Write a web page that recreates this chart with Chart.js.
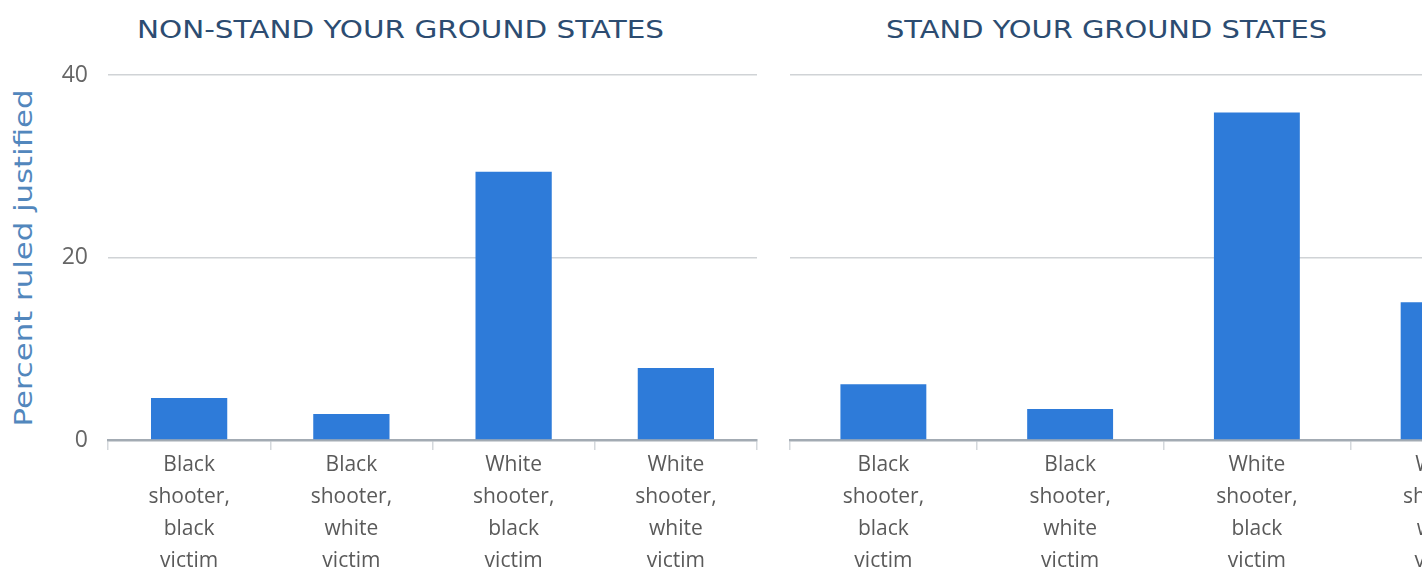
<!DOCTYPE html>
<html>
<head>
<meta charset="utf-8">
<script src="https://cdn.jsdelivr.net/npm/chart.js@4.4.0/dist/chart.umd.min.js"></script>
<style>
  html, body { margin: 0; padding: 0; background: #fff; overflow: hidden; width: 1422px; height: 570px; }
  .wrap { position: absolute; top: 0; }
  .ttl { position: absolute; top: 15px; font-family: "DejaVu Sans", sans-serif; font-size: 25px; color: #2c4c71; white-space: nowrap; transform-origin: 0 0; }
  #ytitle { position: absolute; font-family: "DejaVu Sans", sans-serif; font-size: 24px; color: #5287bd; white-space: nowrap; line-height: 1; }
</style>
</head>
<body>
<div class="ttl" id="t1" data-w="527" style="left:137px;"></div>
<div class="ttl" id="t2" data-w="441" style="left:886px;"></div>
<div id="ytitle"></div>
<div class="wrap" style="left:0px;width:800px;height:600px;"><canvas id="c1" width="800" height="600"></canvas></div>
<div class="wrap" style="left:775px;width:800px;height:600px;"><canvas id="c2" width="800" height="600"></canvas></div>
<script>
const categories = [
  ['Black', 'shooter,', 'black', 'victim'],
  ['Black', 'shooter,', 'white', 'victim'],
  ['White', 'shooter,', 'black', 'victim'],
  ['White', 'shooter,', 'white', 'victim']
];
const nonStandYourGroundValues = [4.6, 2.85, 29.4, 7.9];
const standYourGroundValues = [6.1, 3.4, 35.9, 15.1];
const yTickValues = [0, 20, 40];
const yAxisTitle = 'Percent ruled justified';
const panelTitles = ['NON-STAND YOUR GROUND STATES', 'STAND YOUR GROUND STATES'];

const barColor = '#2e7bd9';
const fontFam = '"Open Sans", sans-serif';

// panel titles, stretched to the reference width
['t1', 't2'].forEach((id, i) => {
  const el = document.getElementById(id);
  el.textContent = panelTitles[i];
  const natural = el.getBoundingClientRect().width;
  el.style.transform = 'scaleX(' + (+el.dataset.w / natural) + ')';
});

// rotated y axis title, centred on the plot height
(function () {
  const el = document.getElementById('ytitle');
  el.textContent = yAxisTitle;
  const r = el.getBoundingClientRect();
  const sx = 337 / r.width;
  const cx = 24, cy = 258;
  el.style.left = (cx - r.width / 2) + 'px';
  el.style.top = (cy - r.height / 2) + 'px';
  el.style.transform = 'rotate(-90deg) scaleX(' + sx + ')';
})();

function makeChart(id, values, showY, leftWidth, padRight, barPct) {
  return new Chart(document.getElementById(id), {
    type: 'bar',
    data: {
      labels: categories,
      datasets: [{
        data: values,
        backgroundColor: barColor,
        borderWidth: 0,
        categoryPercentage: 1,
        barPercentage: barPct
      }]
    },
    options: {
      responsive: false,
      animation: false,
      devicePixelRatio: 1,
      layout: { padding: { top: 75, right: padRight, left: 0, bottom: 0 } },
      plugins: { legend: { display: false }, title: { display: false }, tooltip: { enabled: false } },
      scales: {
        x: {
          grid: { display: true, drawOnChartArea: false, drawTicks: true, tickLength: 10, color: '#d4d8dc', lineWidth: 1.5, offset: true },
          border: { display: true, color: '#a3abb3', width: 2.5 },
          ticks: { color: '#5a5a5a', font: { family: fontFam, size: 21, lineHeight: 1.53 }, padding: -1, maxRotation: 0, autoSkip: false },
          afterFit: (s) => { s.height = 160; }
        },
        y: {
          min: 0, max: 40,
          afterBuildTicks: (s) => { s.ticks = yTickValues.map(v => ({ value: v })); },
          grid: { color: '#d0d3d6', lineWidth: 1.5, drawTicks: false },
          border: { display: false },
          ticks: { display: showY, color: '#666', font: { family: fontFam, size: 23 }, padding: 20 },
          title: { display: false },
          afterFit: (s) => { s.width = leftWidth; }
        }
      }
    }
  });
}

makeChart('c1', nonStandYourGroundValues, true, 108, 43, 0.47);
makeChart('c2', standYourGroundValues, false, 15, 38, 0.46);
</script>
</body>
</html>
